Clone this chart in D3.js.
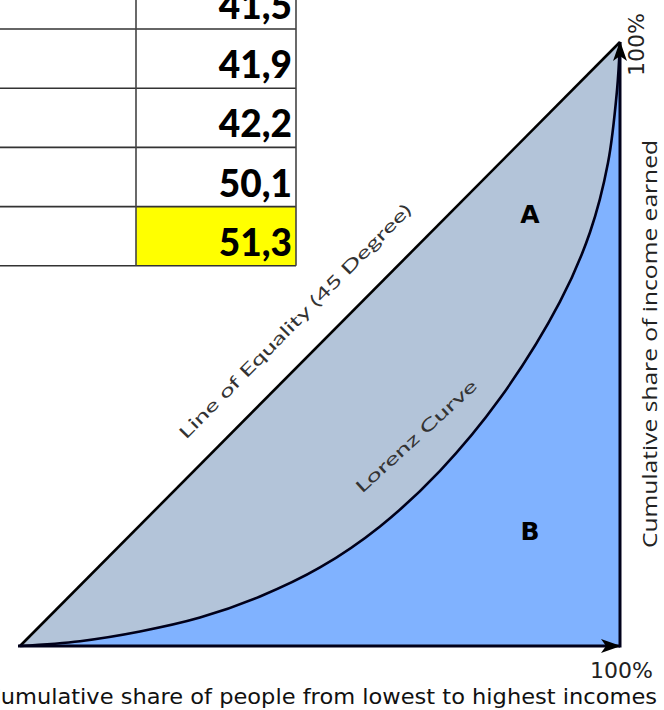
<!DOCTYPE html>
<html><head><meta charset="utf-8">
<script src="https://cdn.jsdelivr.net/npm/d3@7"></script>
<style>html,body{margin:0;padding:0;background:#fff;overflow:hidden}</style>
</head><body>
<svg id="c" width="664" height="710"></svg>
<script>
// Table values (Gini, comma decimals)
const tableValues = [41.5, 41.9, 42.2, 50.1, 51.3];
const highlightIndex = 4;
// Lorenz curve: cumulative share of people vs cumulative share of income
const lorenzX = [0, 0.1, 0.2, 0.3, 0.4, 0.5, 0.6, 0.7, 0.8, 0.9, 0.95, 0.98, 0.995, 1];
const lorenzY = [0, 0.008, 0.024, 0.047, 0.082, 0.13, 0.198, 0.29, 0.41, 0.57, 0.685, 0.8, 0.92, 1];
const equalityX = [0, 1];
const equalityY = [0, 1];
const xAxisLabel = "Cumulative share of people from lowest to highest incomes";
const yAxisLabel = "Cumulative share of income earned";
const endTick = "100%";

const svg = d3.select("#c");
const x = d3.scaleLinear().domain([0, 1]).range([20, 620]);
const y = d3.scaleLinear().domain([0, 1]).range([646, 42]);

const lorenz = lorenzX.map((v, i) => [v, lorenzY[i]]);
const equality = equalityX.map((v, i) => [v, equalityY[i]]);
const curve = d3.curveCatmullRom.alpha(0.5);

// Area B: under the Lorenz curve
svg.append("path")
  .datum(lorenz)
  .attr("d", d3.area().x(d => x(d[0])).y0(y(0)).y1(d => y(d[1])).curve(curve))
  .attr("fill", "#80b2ff");
// Area A: between equality line and Lorenz curve
const lorenzFn = d3.line().x(d => x(d[0])).y(d => y(d[1])).curve(curve);
svg.append("path")
  .attr("d", lorenzFn(lorenz) + "L" + x(0) + "," + y(0) + "Z")
  .attr("fill", "#b3c4d9");

// defs arrows
const defs = svg.append("defs");
defs.append("marker").attr("id", "arr").attr("viewBox", "0 0 20 14")
  .attr("refX", 19).attr("refY", 7).attr("markerWidth", 20).attr("markerHeight", 14)
  .attr("markerUnits", "userSpaceOnUse").attr("orient", "auto")
  .append("path").attr("d", "M0,0 L20,7 L0,14 L5,7 Z").attr("fill", "#000");

// Equality line
svg.append("path").datum(equality)
  .attr("d", d3.line().x(d => x(d[0])).y(d => y(d[1])))
  .attr("fill", "none").attr("stroke", "#000").attr("stroke-width", 2.6);
// Lorenz line
svg.append("path").datum(lorenz).attr("d", lorenzFn)
  .attr("fill", "none").attr("stroke", "#00001a").attr("stroke-width", 2.6);
// Axes
svg.append("line").attr("x1", x(0) - 2).attr("y1", y(0)).attr("x2", x(1)).attr("y2", y(0))
  .attr("stroke", "#00001a").attr("stroke-width", 3).attr("marker-end", "url(#arr)");
svg.append("line").attr("x1", x(1)).attr("y1", y(0) + 1.5).attr("x2", x(1)).attr("y2", y(1))
  .attr("stroke", "#00001a").attr("stroke-width", 3).attr("marker-end", "url(#arr)");

// Labels
svg.append("text").attr("x", 653).attr("y", 678).attr("text-anchor", "end")
  .attr("font-family", "DejaVu Sans").attr("font-size", 22).attr("fill", "#222").text(endTick);
svg.append("text").attr("transform", "translate(644,13) rotate(-90)").attr("text-anchor", "end")
  .attr("font-family", "DejaVu Sans").attr("font-size", 22).attr("fill", "#222")
  .attr("textLength", 63).attr("lengthAdjust", "spacingAndGlyphs").text(endTick);
svg.append("text").attr("x", -15).attr("y", 704).attr("text-anchor", "start")
  .attr("font-family", "DejaVu Sans").attr("font-size", 22).attr("fill", "#111")
  .attr("textLength", 672).attr("lengthAdjust", "spacingAndGlyphs")
  .text(xAxisLabel);
svg.append("text").attr("transform", "translate(657,548) rotate(-90)").attr("text-anchor", "start")
  .attr("font-family", "Open Sans").attr("font-size", 20).attr("fill", "#222")
  .attr("textLength", 408).attr("lengthAdjust", "spacingAndGlyphs")
  .text(yAxisLabel);

svg.append("text").attr("transform", "translate(186,440) rotate(-45.3)")
  .attr("font-family", "Lato").attr("font-size", 17).attr("fill", "#333")
  .attr("textLength", 322).attr("lengthAdjust", "spacingAndGlyphs")
  .text("Line of Equality (45 Degree)");
svg.append("text").attr("transform", "translate(362,494) rotate(-42.5)")
  .attr("font-family", "Lato").attr("font-size", 17).attr("fill", "#333")
  .attr("textLength", 158).attr("lengthAdjust", "spacingAndGlyphs")
  .text("Lorenz Curve");

svg.append("text").attr("x", 530).attr("y", 223).attr("text-anchor", "middle")
  .attr("font-family", "DejaVu Sans").attr("font-weight", "bold").attr("font-size", 25).attr("fill", "#000").text("A");
svg.append("text").attr("x", 530).attr("y", 540).attr("text-anchor", "middle")
  .attr("font-family", "DejaVu Sans").attr("font-weight", "bold").attr("font-size", 25).attr("fill", "#000").text("B");

// Table
const rowH = 59.2, top0 = 29 - rowH, colX = 136, rightX = 296;
const tbl = svg.append("g");
tableValues.forEach((v, i) => {
  const y0 = top0 + i * rowH;
  if (i === highlightIndex) {
    tbl.append("rect").attr("x", colX).attr("y", y0).attr("width", rightX - colX).attr("height", rowH).attr("fill", "#ffff00");
  }
  tbl.append("text").attr("x", 292).attr("y", y0 + rowH - 10).attr("text-anchor", "end")
    .attr("font-family", "Lato").attr("font-weight", "900").attr("font-size", 37).attr("fill", "#000")
    .text(String(v.toFixed(1)).replace(".", ","));
});
for (let i = 1; i <= tableValues.length; i++) {
  const yy = top0 + i * rowH;
  tbl.append("line").attr("x1", 0).attr("x2", rightX).attr("y1", yy).attr("y2", yy)
    .attr("stroke", "#333").attr("stroke-width", 1.6);
}
[colX, rightX].forEach(xx => tbl.append("line").attr("x1", xx).attr("x2", xx)
  .attr("y1", 0).attr("y2", top0 + tableValues.length * rowH).attr("stroke", "#444").attr("stroke-width", 1.6));
</script>
</body></html>
